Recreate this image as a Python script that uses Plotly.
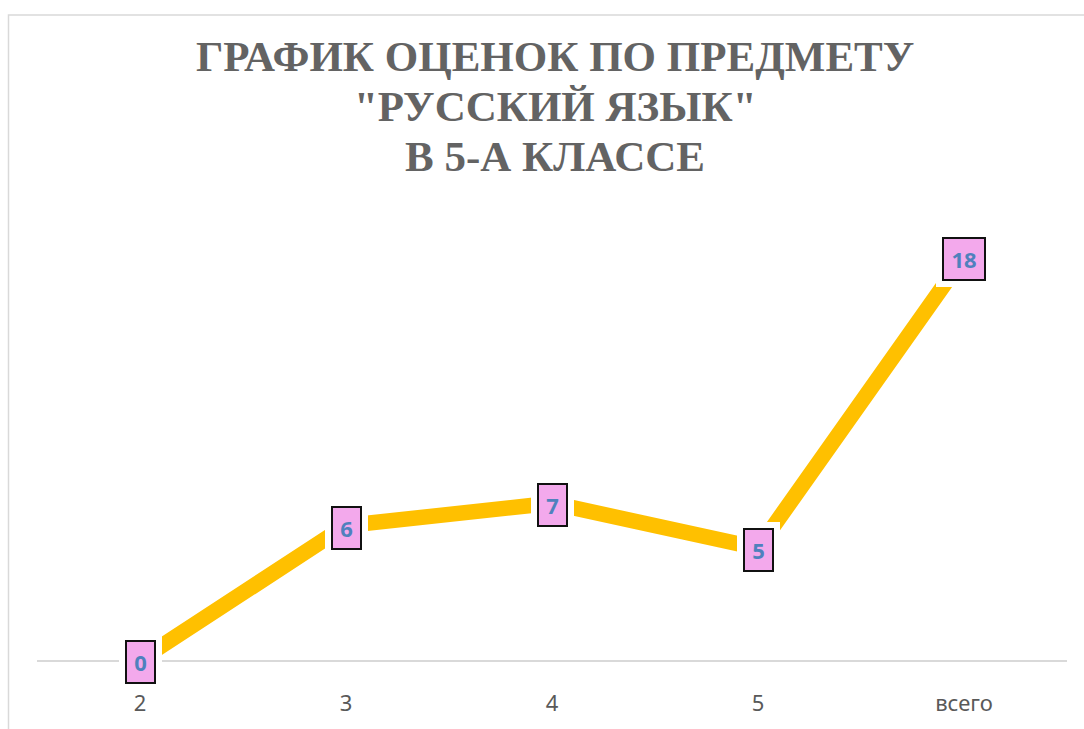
import plotly.graph_objects as go

categories = ["2", "3", "4", "5", "всего"]
values = [0, 6, 7, 5, 18]
title_lines = ["ГРАФИК ОЦЕНОК ПО ПРЕДМЕТУ", "\"РУССКИЙ ЯЗЫК\"", "В 5-А КЛАССЕ"]

W, H = 1084, 729
ML, MR, MT, MB = 37, 17, 212, 61
plot_h = H - MT - MB
plot_w = W - ML - MR

fig = go.Figure()
fig.add_trace(go.Scatter(
    x=categories, y=values, mode="lines",
    line=dict(color="#FFC000", width=15.5),
    hoverinfo="skip", showlegend=False,
))

annotations = []
for i, (c, v) in enumerate(zip(categories, values)):
    txt = str(v)
    w = 23 if len(txt) == 1 else 36
    # white halo
    annotations.append(dict(
        x=i, y=v, xref="x", yref="y", text=txt, showarrow=False,
        font=dict(family="Noto Sans", size=22, color="rgba(0,0,0,0)"),
        width=w, height=36, bgcolor="white", bordercolor="white",
        borderwidth=8, borderpad=2, xanchor="center", yanchor="middle", yshift=-2,
    ))
    annotations.append(dict(
        x=i, y=v, xref="x", yref="y", text="<b>%s</b>" % txt, showarrow=False,
        font=dict(family="Noto Sans", size=22, color="#4F81BD"),
        width=w, height=36, bgcolor="#F3A9EC", bordercolor="#111111",
        borderwidth=2, borderpad=2, xanchor="center", yanchor="middle", yshift=-2,
    ))

def py_to_paper(py):
    return (H - MB - py) / plot_h

def px_to_paper(px):
    return (px - ML) / plot_w

title_y = [54, 104.5, 155]
for line, ty in zip(title_lines, title_y):
    annotations.append(dict(
        x=px_to_paper(555), y=py_to_paper(ty), xref="paper", yref="paper",
        text="<b>%s</b>" % line, showarrow=False,
        font=dict(family="Liberation Serif", size=43, color="#636363"),
        xanchor="center", yanchor="middle",
    ))

fig.add_shape(
    type="rect", xref="paper", yref="paper",
    x0=px_to_paper(8.5), x1=px_to_paper(1100), y0=py_to_paper(760), y1=py_to_paper(11.5),
    line=dict(color="#D9D9D9", width=1.5), fillcolor="rgba(0,0,0,0)", layer="below",
)

fig.update_layout(
    width=W, height=H,
    margin=dict(l=ML, r=MR, t=MT, b=MB),
    paper_bgcolor="white", plot_bgcolor="white",
    annotations=annotations,
    showlegend=False,
    xaxis=dict(
        type="category", range=[-0.5, 4.5], showgrid=False, zeroline=False,
        showline=True, linecolor="#D9D9D9", linewidth=1.5,
        ticks="outside", ticklen=23, tickcolor="rgba(0,0,0,0)",
        tickfont=dict(family="Noto Sans", size=22, color="#595959"),
        fixedrange=True,
    ),
    yaxis=dict(
        range=[0, 20], showgrid=False, zeroline=False, showline=False,
        showticklabels=False, fixedrange=True,
    ),
)

fig.write_html(
    "out.html",
    config={"displayModeBar": False},
    post_script="document.body.style.margin='0';document.body.style.overflow='hidden';",
)
